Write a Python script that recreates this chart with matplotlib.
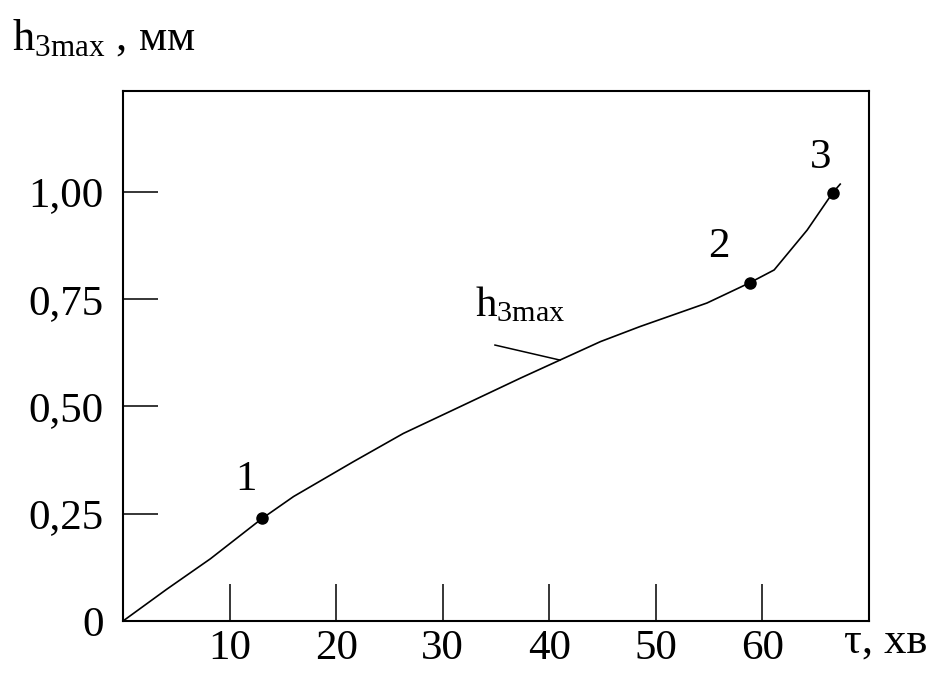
##############
#Dependencies
##############
import matplotlib
matplotlib.use('Agg')
import matplotlib.pyplot as plt

#################
#Data
#################
# curve h3max(tau)
tau = [0, 4.1, 8.2, 13.0, 16.0, 21.6, 26.3, 31.0, 37.3, 41.0, 44.8, 48.5, 54.8, 58.8, 61.1, 64.2, 66.6, 67.3]
h3max = [0, 0.074, 0.145, 0.238, 0.290, 0.371, 0.437, 0.492, 0.566, 0.608, 0.651, 0.686, 0.741, 0.788, 0.818, 0.911, 0.998, 1.018]

# marked points 1, 2, 3
point_tau = [13.0, 58.8, 66.6]
point_h = [0.240, 0.788, 0.998]
point_names = ['1', '2', '3']

xticks = [10, 20, 30, 40, 50, 60]
xtick_labels = ['10', '20', '30', '40', '50', '60']
yticks = [0, 0.25, 0.5, 0.75, 1.0]
ytick_labels = ['0', '0,25', '0,50', '0,75', '1,00']

#################
#Plot
#################
plt.rcParams['font.family'] = ['Liberation Serif', 'DejaVu Serif']
plt.rcParams['mathtext.fontset'] = 'stix'

fig = plt.figure(figsize=(9.35, 6.75), dpi=100)
ax = fig.add_axes([0.1316, 0.08, 0.7978, 0.7852])

ax.plot(tau, h3max, color='black', linewidth=1.2)
ax.plot(point_tau, point_h, 'o', color='black', markersize=8)

# labels of points
name_pos = [(11.5, 0.305), (55.9, 0.848), (65.5, 1.056)]
for name, (px, py) in zip(point_names, name_pos):
    ax.text(px, py, name, fontsize=31, ha='center', va='baseline')

# curve label with leader line
ax.plot([34.9, 41.0], [0.643, 0.608], color='black', linewidth=1.1)
ax.text(33.0, 0.711, r'$\mathregular{h_{3max}}$', fontsize=31, ha='left', va='baseline')

ax.set_xlim(0, 70)
ax.set_ylim(0, 1.235)
ax.set_xticks(xticks)
ax.set_xticklabels(xtick_labels)
ax.set_yticks(yticks)
ax.set_yticklabels(ytick_labels)
ax.tick_params(axis='x', direction='in', length=27, width=1.1, labelsize=31, pad=6)
ax.tick_params(axis='y', direction='in', length=25, width=1.1, labelsize=31, pad=14)
for sp in ax.spines.values():
    sp.set_linewidth(1.5)

# axis titles
fig.text(0.013, 0.926, r'$\mathregular{h_{3max}}$ , мм', fontsize=32, ha='left', va='baseline')
fig.text(0.903, 0.034, 'τ, хв', fontsize=32, ha='left', va='baseline')

fig.savefig('out.png', dpi=100)
